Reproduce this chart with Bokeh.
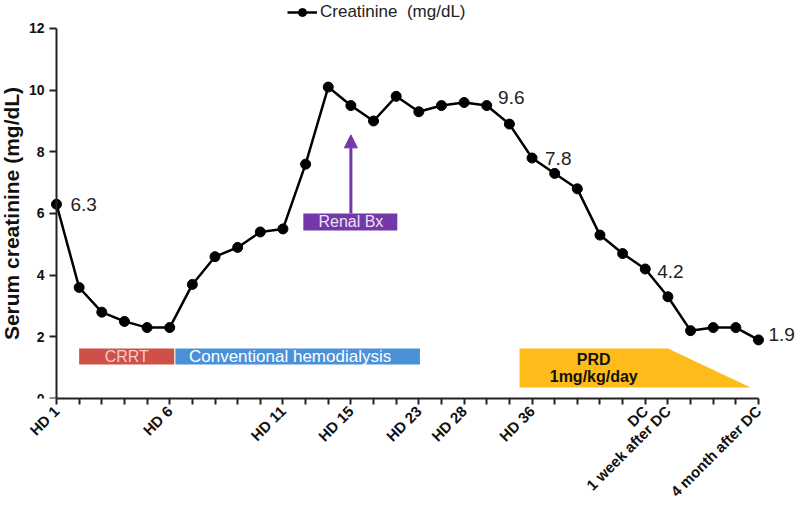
import math
from bokeh.plotting import figure
from bokeh.models import (Range1d, FixedTicker, ColumnDataSource, Legend, LegendItem,
                          Arrow, NormalHead)
from bokeh.core.properties import value
from bokeh.embed import file_html
from bokeh.resources import INLINE

# ---------------- data ----------------
creatinine = [6.3, 3.6, 2.8, 2.5, 2.3, 2.3, 3.7, 4.6, 4.9, 5.4, 5.5, 7.6, 10.1, 9.5, 9.0, 9.8,
              9.3, 9.5, 9.6, 9.5, 8.9, 7.8, 7.3, 6.8, 5.3, 4.7, 4.2, 3.3, 2.2, 2.3, 2.3, 1.9]
visit = list(range(len(creatinine)))

tick_pos = [0, 5, 10, 13, 16, 18, 21, 26, 27, 31]
tick_text = ["HD 1", "HD 6", "HD 11", "HD 15", "HD 23", "HD 28", "HD 36", "DC",
             "1 week after DC", "4 month after DC"]
y_ticks = [0, 2, 4, 6, 8, 10, 12]

# annotated values (index of the point)
label_idx = [0, 18, 21, 26, 31]

# treatment periods (in visit units)
crrt_period = [1.0, 5.2]
hd_period = [5.25, 16.05]
renal_bx = [10.9, 15.05]
renal_bx_at = 13
prd_period = [20.45, 27.0, 30.65]   # start, start of taper, end

# ---------------- styles ----------------
FONT = "Liberation Sans"
C_RED = "#cf5049"
C_BLUE = "#4b91d7"
C_PURPLE = "#7438a8"
C_GOLD = "#fdbc19"
AX = "#222222"

band_top, band_bot = 1.62, 1.10
prd_top, prd_bot = 1.62, 0.36
bx_top, bx_bot = 6.0, 5.45
arrow_tip = 8.55

lab_dx = [14, 34, 13, 12, 10]
lab_dy = [0, -5, 1, 3, -5]

p = figure(frame_width=800, frame_height=398,
           x_range=Range1d(-2.473, 32.855), y_range=Range1d(0, 12.908),
           output_backend="svg", toolbar_location=None, min_border=0)
p.grid.visible = False
p.outline_line_color = None

# axes
p.yaxis.fixed_location = 0
p.yaxis.bounds = (0, 12)
p.yaxis.ticker = FixedTicker(ticks=y_ticks)
p.yaxis.minor_tick_line_color = None
p.yaxis.major_tick_in = 0
p.yaxis.major_tick_out = 7
p.yaxis.axis_label = "Serum creatinine (mg/dL)"
p.yaxis.axis_label_text_font = FONT
p.yaxis.axis_label_text_font_size = "21px"
p.yaxis.axis_label_text_font_style = "bold"
p.yaxis.axis_label_text_color = "#111111"
p.yaxis.axis_label_standoff = 3
p.yaxis.major_label_text_font = FONT
p.yaxis.major_label_text_font_size = "14px"
p.yaxis.major_label_text_font_style = "bold"
p.yaxis.major_label_text_color = "#111111"
p.yaxis.major_label_standoff = 5

p.xaxis.bounds = (0, len(creatinine) - 1)
p.xaxis.ticker = FixedTicker(ticks=visit)
overrides = {i: "" for i in visit}
for pos, txt in zip(tick_pos, tick_text):
    overrides[pos] = txt
p.xaxis.major_label_overrides = overrides
p.xaxis.major_label_orientation = math.pi / 4
p.xaxis.minor_tick_line_color = None
p.xaxis.major_tick_in = 0
p.xaxis.major_tick_out = 6
p.xaxis.major_label_text_font = FONT
p.xaxis.major_label_text_font_size = "15px"
p.xaxis.major_label_text_font_style = "bold"
p.xaxis.major_label_text_color = "#111111"
p.xaxis.major_label_standoff = 4

for ax in (p.xaxis, p.yaxis):
    ax.axis_line_color = AX
    ax.axis_line_width = 2
    ax.major_tick_line_color = AX
    ax.major_tick_line_width = 2

# treatment bands
p.quad(left=[crrt_period[0]], right=[crrt_period[1]], bottom=[band_bot], top=[band_top],
       fill_color=C_RED, line_color=None)
p.quad(left=[hd_period[0]], right=[hd_period[1]], bottom=[band_bot], top=[band_top],
       fill_color=C_BLUE, line_color=None)
p.text(x=[(crrt_period[0] + crrt_period[1]) / 2], y=[(band_top + band_bot) / 2], text=["CRRT"],
       text_font=value(FONT), text_font_size="16px", text_color="#f5cbc8",
       text_align="center", text_baseline="middle")
p.text(x=[hd_period[0] + 0.6], y=[(band_top + band_bot) / 2], text=["Conventional hemodialysis"],
       text_font=value(FONT), text_font_size="17px", text_color="#ffffff",
       text_align="left", text_baseline="middle")

# renal biopsy
p.quad(left=[renal_bx[0]], right=[renal_bx[1]], bottom=[bx_bot], top=[bx_top],
       fill_color=C_PURPLE, line_color=None)
p.text(x=[renal_bx_at], y=[(bx_top + bx_bot) / 2], text=["Renal Bx"],
       text_font=value(FONT), text_font_size="16px", text_color="#ece2f7",
       text_align="center", text_baseline="middle")
p.add_layout(Arrow(x_start=renal_bx_at, y_start=bx_top, x_end=renal_bx_at, y_end=arrow_tip,
                   line_color=C_PURPLE, line_width=3,
                   end=NormalHead(size=13, fill_color=C_PURPLE, line_color=C_PURPLE)))

# prednisolone taper
p.patch(x=[prd_period[0], prd_period[1], prd_period[2], prd_period[0]],
        y=[prd_top, prd_top, prd_bot, prd_bot], fill_color=C_GOLD, line_color=None)
p.text(x=[(prd_period[0] + prd_period[1]) / 2] * 2,
       y=[prd_top - (prd_top - prd_bot) * 0.28, prd_top - (prd_top - prd_bot) * 0.72],
       text=["PRD", "1mg/kg/day"],
       text_font=value(FONT), text_font_size="16px", text_font_style="bold",
       text_color="#111111", text_align="center", text_baseline="middle")

# creatinine series
src = ColumnDataSource(dict(x=visit, y=creatinine))
line_r = p.line("x", "y", source=src, line_color="#000000", line_width=2.5)
pts_r = p.scatter("x", "y", source=src, size=10, fill_color="#000000", line_color="#000000")

lab = ColumnDataSource(dict(x=[visit[i] for i in label_idx],
                            y=[creatinine[i] for i in label_idx],
                            t=[f"{creatinine[i]:.1f}" for i in label_idx],
                            dx=lab_dx, dy=lab_dy))
p.text("x", "y", text="t", source=lab, x_offset="dx", y_offset="dy",
       text_font=value(FONT), text_font_size="19px", text_color="#222222",
       text_align="left", text_baseline="middle")

legend = Legend(items=[LegendItem(label="Creatinine  (mg/dL)", renderers=[line_r, pts_r])],
                location=(287, 376), orientation="horizontal",
                label_text_font=FONT, label_text_font_size="17px", label_text_color="#222222",
                glyph_width=30, glyph_height=20, label_height=20, label_standoff=3,
                padding=0, margin=0, spacing=0,
                border_line_alpha=0, background_fill_alpha=0)
p.add_layout(legend)

open("out.html", "w").write(file_html(p, INLINE))
